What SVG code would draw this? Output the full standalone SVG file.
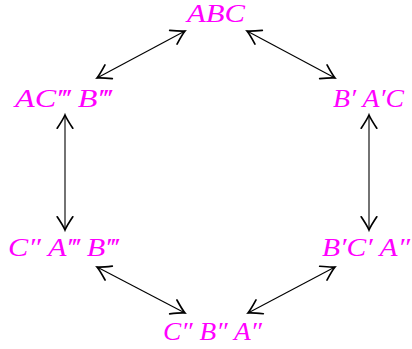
<svg xmlns="http://www.w3.org/2000/svg" width="412" height="349" viewBox="0 0 412 349">
<style>
.lbl{font-family:"Liberation Serif","DejaVu Serif",serif;font-style:italic;font-size:26px;fill:#ff00ff;text-anchor:middle}
.edge{stroke:#000;stroke-width:1.1;fill:none}
</style>
<defs>
<marker id="ah" markerUnits="userSpaceOnUse" markerWidth="24" markerHeight="24" viewBox="-14 -10 16 20" refX="0" refY="0" orient="auto-start-reverse" overflow="visible">
<path d="M-11,-6.5 Q-3.5,-1.5 0,0 Q-3.5,1.5 -11,6.5" stroke="#000" stroke-width="1.4" fill="none" stroke-linecap="round"/>
</marker>
</defs>
<rect width="412" height="349" fill="#fff"/>
<g id="connectors">
<line class="edge" x1="185" y1="31" x2="97" y2="78" marker-start="url(#ah)" marker-end="url(#ah)"/>
<line class="edge" x1="247" y1="31" x2="335" y2="78" marker-start="url(#ah)" marker-end="url(#ah)"/>
<line class="edge" x1="65" y1="115" x2="65" y2="230" marker-start="url(#ah)" marker-end="url(#ah)"/>
<line class="edge" x1="369" y1="115" x2="369" y2="230" marker-start="url(#ah)" marker-end="url(#ah)"/>
<line class="edge" x1="97" y1="267" x2="185" y2="313" marker-start="url(#ah)" marker-end="url(#ah)"/>
<line class="edge" x1="335" y1="267" x2="248" y2="313" marker-start="url(#ah)" marker-end="url(#ah)"/>
</g>
<g id="n-ABC"><text class="lbl" x="216" y="22" textLength="58" lengthAdjust="spacingAndGlyphs">ABC</text></g>
<g id="n-ACB"><text class="lbl" x="63" y="107" textLength="96" lengthAdjust="spacingAndGlyphs">AC‴ B‴</text></g>
<g id="n-BAC"><text class="lbl" x="368.5" y="107" textLength="71" lengthAdjust="spacingAndGlyphs">B′ A′C</text></g>
<g id="n-CAB"><text class="lbl" x="63" y="256" textLength="110" lengthAdjust="spacingAndGlyphs">C″ A‴ B‴</text></g>
<g id="n-BCA"><text class="lbl" x="366" y="256" textLength="88" lengthAdjust="spacingAndGlyphs">B′C′ A″</text></g>
<g id="n-CBA"><text class="lbl" x="212.5" y="340" textLength="99" lengthAdjust="spacingAndGlyphs">C″ B″ A″</text></g>
</svg>
